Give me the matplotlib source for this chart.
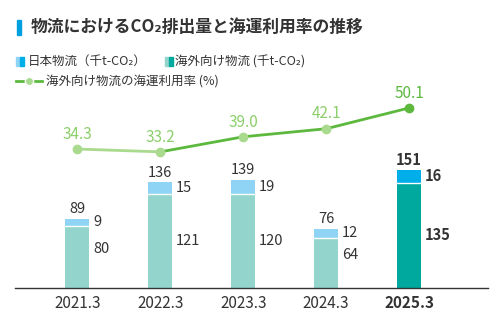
import matplotlib.pyplot as plt
from matplotlib.patches import Rectangle
from matplotlib.lines import Line2D

plt.rcParams['font.family'] = ['Noto Sans CJK JP', 'DejaVu Sans']

# ---- data ----
years = ["2021.3", "2022.3", "2023.3", "2024.3", "2025.3"]
japan = [9, 15, 19, 12, 16]
overseas = [80, 121, 120, 64, 135]
totals = [89, 136, 139, 76, 151]
sea_rate = [34.3, 33.2, 39.0, 42.1, 50.1]

TEXT = "#333333"
jp_light, jp_dark = "#8fd4f5", "#00aeea"
ov_light, ov_dark = "#93d5cd", "#00a99d"
gr_light, gr_dark = "#a9da8e", "#5cb93e"

fig = plt.figure(figsize=(5, 3.26), dpi=100)
W, H = 500, 326

# axes placed in pixel terms: baseline y=288, top y=90, x 15..488
ax = fig.add_axes([15 / W, (H - 288) / H, (488 - 15) / W, (288 - 90) / H])
x = list(range(len(years)))
ax.set_xlim(-0.75, 4.95)
ax.set_ylim(0, 198 / 0.78)

for i in x:
    last = i == len(x) - 1
    ov_c = ov_dark if last else ov_light
    jp_c = jp_dark if last else jp_light
    ax.bar(i, overseas[i], width=0.29, color=ov_c, zorder=2)
    ax.bar(i, japan[i], width=0.29, bottom=overseas[i], color=jp_c, zorder=2)
    ax.plot([i - 0.145, i + 0.145], [overseas[i], overseas[i]], color="white", lw=1, zorder=3)
    w = "bold" if last else "normal"
    ax.text(i, totals[i] + 3, str(totals[i]), ha="center", va="bottom",
            fontsize=10.5, color=TEXT, fontweight=w)
    ax.text(i + 0.19, overseas[i] + japan[i] / 2, str(japan[i]), ha="left", va="center",
            fontsize=10.5, color=TEXT, fontweight=w)
    ax.text(i + 0.19, overseas[i] / 2 + (10 if overseas[i] < 100 else 0), str(overseas[i]),
            ha="left", va="center", fontsize=10.5, color=TEXT, fontweight=w)

ax.set_xticks(x)
ax.set_xticklabels(years, fontsize=11, color=TEXT)
ax.get_xticklabels()[-1].set_fontweight("bold")
ax.tick_params(axis="x", length=0, pad=5)
ax.set_yticks([])
for s in ["top", "left", "right"]:
    ax.spines[s].set_visible(False)
ax.spines["bottom"].set_color("#333333")
ax.spines["bottom"].set_linewidth(1)

# line on twin axis
ax2 = ax.twinx()
ax2.set_ylim(-49.8 / 2.6, (198 - 49.8) / 2.6)
ax2.set_yticks([])
for s in ["top", "left", "right", "bottom"]:
    ax2.spines[s].set_visible(False)
ax2.plot(x[:2], sea_rate[:2], color=gr_light, lw=2, zorder=3)
ax2.plot(x[1:], sea_rate[1:], color=gr_dark, lw=2, zorder=3)
for i in x:
    last = i == len(x) - 1
    c = gr_dark if last else gr_light
    ax2.plot(i, sea_rate[i], "o", color=c, ms=6, zorder=4)
    ax2.text(i, sea_rate[i] + 2.4, f"{sea_rate[i]:.1f}", ha="center", va="bottom",
             fontsize=11, color=gr_dark if last else "#8ccf6b")

# title
fig.patches.append(Rectangle((17 / W, 1 - 35 / H), 4 / W, 15 / H, transform=fig.transFigure,
                             color="#00a0e0", figure=fig))
fig.text(31 / W, 1 - 27 / H, "物流におけるCO₂排出量と海運利用率の推移", fontsize=12.1,
         fontweight="bold", color=TEXT, va="center", ha="left")

# legend row 1
fig.patches.append(Rectangle((16 / W, 1 - 66 / H), 4 / W, 9 / H, transform=fig.transFigure,
                             color=jp_light, figure=fig))
fig.patches.append(Rectangle((20 / W, 1 - 66 / H), 4 / W, 9 / H, transform=fig.transFigure,
                             color=jp_dark, figure=fig))
fig.text(28 / W, 1 - 61.5 / H, "日本物流（千t-CO₂）", fontsize=9, color=TEXT, va="center")
fig.patches.append(Rectangle((165 / W, 1 - 66 / H), 4 / W, 9 / H, transform=fig.transFigure,
                             color=ov_light, figure=fig))
fig.patches.append(Rectangle((169 / W, 1 - 66 / H), 4 / W, 9 / H, transform=fig.transFigure,
                             color=ov_dark, figure=fig))
fig.text(175 / W, 1 - 61.5 / H, "海外向け物流 (千t-CO₂)", fontsize=9, color=TEXT, va="center")

# legend row 2
fig.lines.append(Line2D([16 / W, 42 / W], [1 - 81 / H, 1 - 81 / H], transform=fig.transFigure,
                        color=gr_dark, lw=2, figure=fig))
fig.lines.append(Line2D([29 / W], [1 - 81 / H], transform=fig.transFigure, marker="o", ms=6,
                        color=gr_light, markeredgecolor="white", figure=fig))
fig.text(46 / W, 1 - 81 / H, "海外向け物流の海運利用率 (%)", fontsize=9, color=TEXT, va="center")

fig.savefig("out.png", dpi=100)
